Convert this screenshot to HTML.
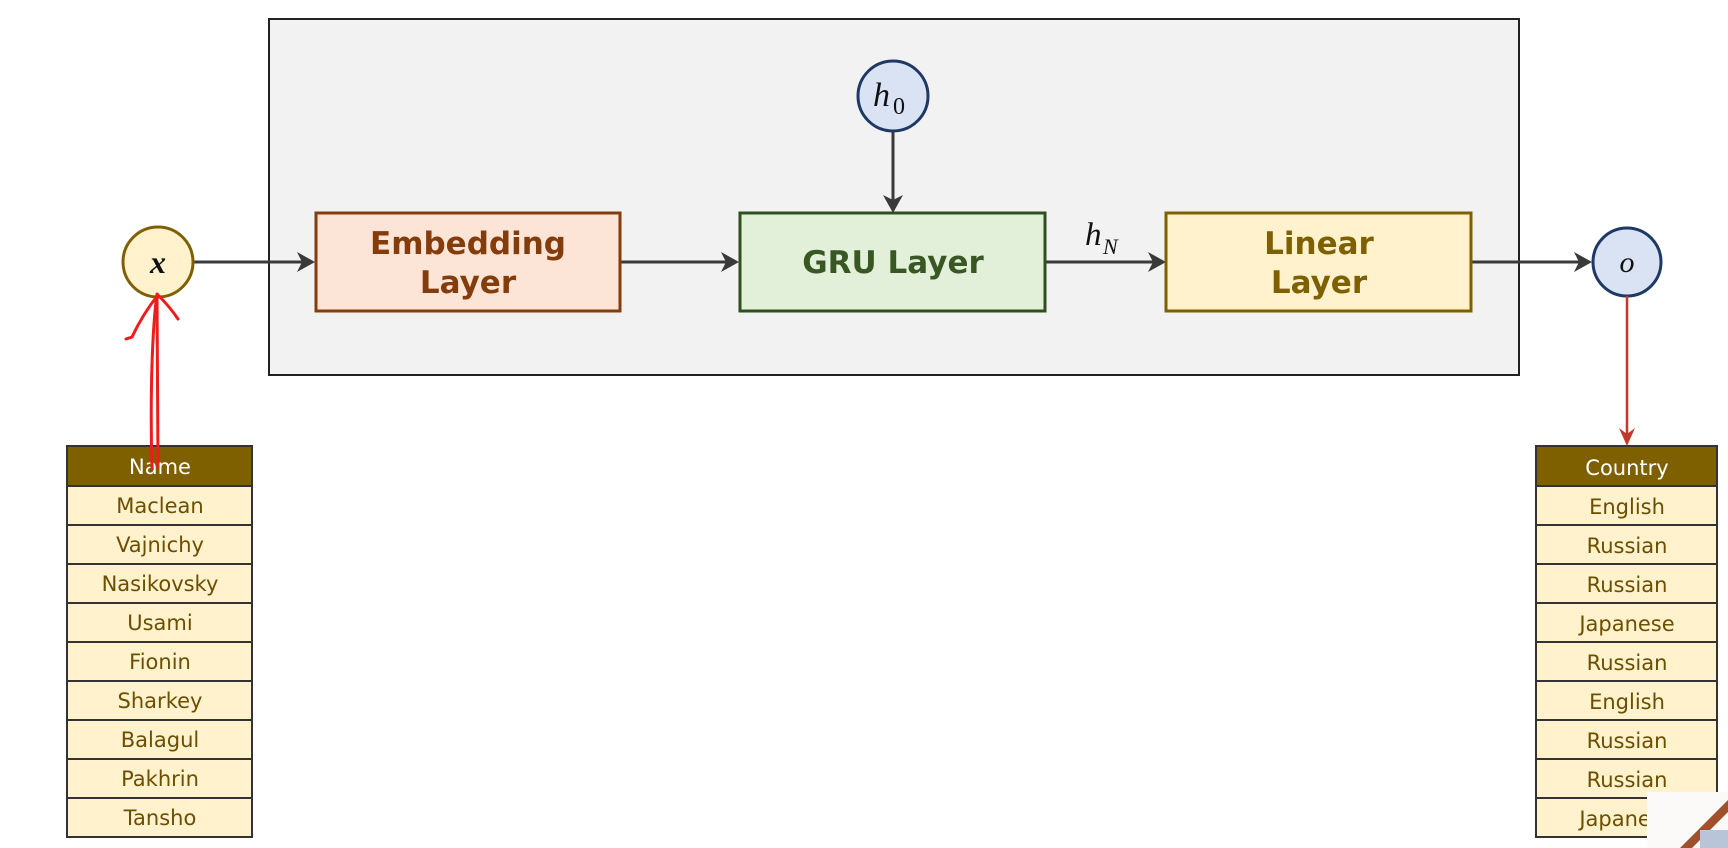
<!DOCTYPE html>
<html><head><meta charset="utf-8"><style>
html,body{margin:0;padding:0;background:#fff;}
svg{display:block;}
.t{font-family:"DejaVu Sans","Liberation Sans",sans-serif;}
.m{font-family:"Liberation Serif",serif;font-style:italic;}
</style></head><body>
<svg width="1728" height="848" viewBox="0 0 1728 848" xmlns="http://www.w3.org/2000/svg">
<rect x="269" y="19" width="1250" height="356" fill="#f2f2f2" stroke="#222" stroke-width="2"/>

<g stroke="#3a3a3a" stroke-width="3" fill="none">
<line x1="194" y1="262" x2="306" y2="262"/>
<line x1="620" y1="262" x2="730" y2="262"/>
<line x1="1045" y1="262" x2="1157" y2="262"/>
<line x1="1471" y1="262" x2="1583" y2="262"/>
<line x1="893" y1="131" x2="893" y2="204"/>
</g>
<g fill="#3a3a3a">
<path d="M315 262 L297 252 L302 262 L297 272 Z"/>
<path d="M739 262 L721 252 L726 262 L721 272 Z"/>
<path d="M1166 262 L1148 252 L1153 262 L1148 272 Z"/>
<path d="M1592 262 L1574 252 L1579 262 L1574 272 Z"/>
<path d="M893 213 L883 195 L893 200 L903 195 Z"/>
</g>

<rect x="316" y="213" width="304" height="98" fill="#fce4d6" stroke="#843c0c" stroke-width="3"/>
<text class="t" x="468" y="254" font-size="31" font-weight="bold" fill="#843c0c" text-anchor="middle">Embedding</text>
<text class="t" x="468" y="293" font-size="31" font-weight="bold" fill="#843c0c" text-anchor="middle">Layer</text>

<rect x="740" y="213" width="305" height="98" fill="#e2f0d9" stroke="#2f4f1f" stroke-width="3"/>
<text class="t" x="893" y="273" font-size="31" font-weight="bold" fill="#385723" text-anchor="middle">GRU Layer</text>

<rect x="1166" y="213" width="305" height="98" fill="#fff2cc" stroke="#7f6000" stroke-width="3"/>
<text class="t" x="1319" y="254" font-size="31" font-weight="bold" fill="#7f6000" text-anchor="middle">Linear</text>
<text class="t" x="1319" y="293" font-size="31" font-weight="bold" fill="#7f6000" text-anchor="middle">Layer</text>

<text class="m" x="1085" y="245" font-size="33" fill="#111">h</text>
<text class="m" x="1103" y="254" font-size="22" fill="#111">N</text>

<circle cx="893" cy="96" r="35" fill="#dae3f3" stroke="#1f3864" stroke-width="3"/>
<text class="m" x="873" y="106" font-size="34" fill="#111">h</text>
<text font-family="Liberation Serif,serif" x="893" y="114" font-size="24" fill="#111">0</text>

<circle cx="158" cy="262" r="35" fill="#fff2cc" stroke="#7f6000" stroke-width="3"/>
<text class="m" x="158" y="273" font-size="32" font-weight="bold" fill="#111" text-anchor="middle">x</text>

<circle cx="1627" cy="262" r="34" fill="#dae3f3" stroke="#1f3864" stroke-width="3"/>
<text class="m" x="1627" y="272" font-size="30" fill="#111" text-anchor="middle">o</text>

<line x1="1627" y1="296" x2="1627" y2="440" stroke="#c0392b" stroke-width="2.5"/>
<path d="M1627 446 L1619 428 L1627 434 L1635 428 Z" fill="#c0392b"/>

<g class="t" font-size="21" text-anchor="middle">
<rect x="67" y="446" width="185" height="40" fill="#7f6000" stroke="#333" stroke-width="2"/>
<text x="160" y="474" fill="#fff">Name</text>
<g fill="#fff2cc" stroke="#333" stroke-width="2">
<rect x="67" y="486" width="185" height="39"/><rect x="67" y="525" width="185" height="39"/>
<rect x="67" y="564" width="185" height="39"/><rect x="67" y="603" width="185" height="39"/>
<rect x="67" y="642" width="185" height="39"/><rect x="67" y="681" width="185" height="39"/>
<rect x="67" y="720" width="185" height="39"/><rect x="67" y="759" width="185" height="39"/>
<rect x="67" y="798" width="185" height="39"/>
</g>
<g fill="#6b4e00">
<text x="160" y="513">Maclean</text><text x="160" y="552">Vajnichy</text>
<text x="160" y="591">Nasikovsky</text><text x="160" y="630">Usami</text>
<text x="160" y="669">Fionin</text><text x="160" y="708">Sharkey</text>
<text x="160" y="747">Balagul</text><text x="160" y="786">Pakhrin</text>
<text x="160" y="825">Tansho</text>
</g>

<rect x="1536" y="446" width="181" height="40" fill="#7f6000" stroke="#333" stroke-width="2"/>
<text x="1627" y="475" fill="#fff">Country</text>
<g fill="#fff2cc" stroke="#333" stroke-width="2">
<rect x="1536" y="486" width="181" height="39"/><rect x="1536" y="525" width="181" height="39"/>
<rect x="1536" y="564" width="181" height="39"/><rect x="1536" y="603" width="181" height="39"/>
<rect x="1536" y="642" width="181" height="39"/><rect x="1536" y="681" width="181" height="39"/>
<rect x="1536" y="720" width="181" height="39"/><rect x="1536" y="759" width="181" height="39"/>
<rect x="1536" y="798" width="181" height="39"/>
</g>
<g fill="#6b4e00">
<text x="1627" y="514">English</text><text x="1627" y="553">Russian</text>
<text x="1627" y="592">Russian</text><text x="1627" y="631">Japanese</text>
<text x="1627" y="670">Russian</text><text x="1627" y="709">English</text>
<text x="1627" y="748">Russian</text><text x="1627" y="787">Russian</text>
<text x="1627" y="826">Japanese</text>
</g>
</g>

<g stroke="#ee1c1c" stroke-width="3" fill="none" stroke-linecap="round">
<path d="M152 468 C150 400 152 330 157 294"/>
<path d="M158 467 L157 295"/>
<path d="M158 295 C150 305 140 320 132 337 L126 339"/>
<path d="M158 295 C165 302 172 310 178 319"/>
</g>

<rect x="1647" y="792" width="81" height="56" fill="#fbfaf8"/>
<path d="M1680 848 L1728 800 L1728 812 L1692 848 Z" fill="#a0502a"/>
<rect x="1700" y="830" width="28" height="18" fill="#b8c4d8"/>
</svg>
</body></html>
